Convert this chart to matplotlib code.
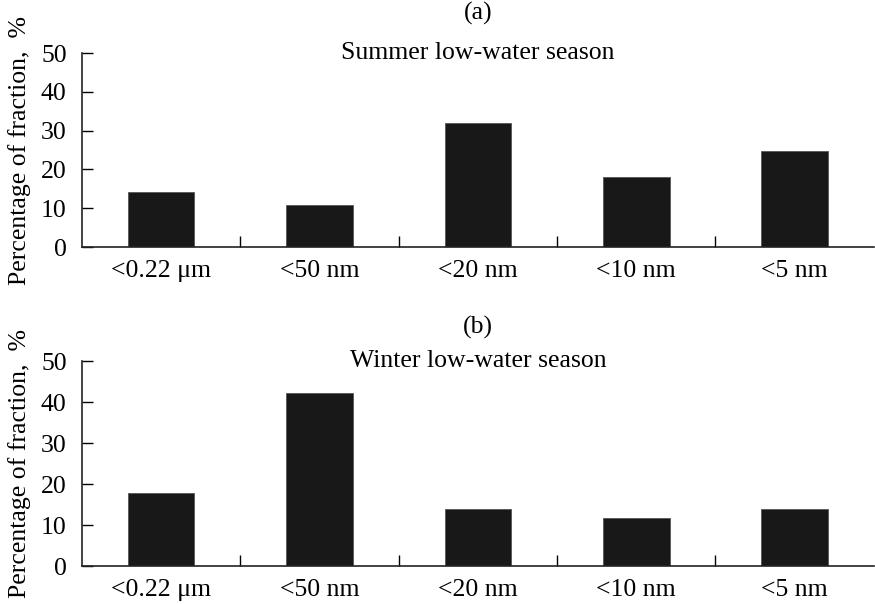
import matplotlib
matplotlib.use("Agg")
import matplotlib.pyplot as plt

plt.rcParams['font.family'] = ['Liberation Serif', 'DejaVu Serif']

# fraction sizes and percentages for each season
categories = ['<0.22 \u03bcm', '<50 nm', '<20 nm', '<10 nm', '<5 nm']
summer = [14.2, 10.8, 32.0, 18.1, 24.8]
winter = [17.7, 42.3, 13.9, 11.6, 13.9]
yticks = [0, 10, 20, 30, 40, 50]

fs = 18.5

fig = plt.figure(figsize=(8.75, 6.04), dpi=100)
ax1 = fig.add_axes([0.0937, 0.591, 0.905, 0.321])
ax2 = fig.add_axes([0.0937, 0.0629, 0.905, 0.3394])

panels = [(ax1, summer, '(a)', 'Summer low-water season', 0.978),
          (ax2, winter, '(b)', 'Winter low-water season', 0.458)]

for ax, vals, tag, title, tag_y in panels:
    x = list(range(len(categories)))
    ax.bar(x, vals, width=0.42, color='#181818', edgecolor='#555555', linewidth=0.6)
    ax.set_xlim(-0.5, len(categories) - 0.5)
    ax.set_ylim(0, 50)
    ax.set_yticks(yticks)
    ax.set_xticks(x)
    ax.set_xticklabels(categories, fontsize=fs)
    ax.set_xticks([i + 0.5 for i in x[:-1]], minor=True)
    ax.tick_params(axis='x', which='major', length=0, pad=9)
    ax.tick_params(axis='x', which='minor', direction='in', length=8, width=1.0)
    ax.tick_params(axis='y', direction='in', length=8, width=1.0, labelsize=fs, pad=11)
    for s in ['top', 'right']:
        ax.spines[s].set_visible(False)
    for s in ['left', 'bottom']:
        ax.spines[s].set_linewidth(1.2)
        ax.spines[s].set_color('#222222')
    ax.set_ylabel('Percentage of fraction,  %', fontsize=fs, labelpad=7)
    ax.text(0.5, 1.0, title, transform=ax.transAxes, ha='center', va='center', fontsize=fs)
    fig.text(0.5463, tag_y, tag, ha='center', va='center', fontsize=fs)

fig.savefig('out.png', dpi=100)
